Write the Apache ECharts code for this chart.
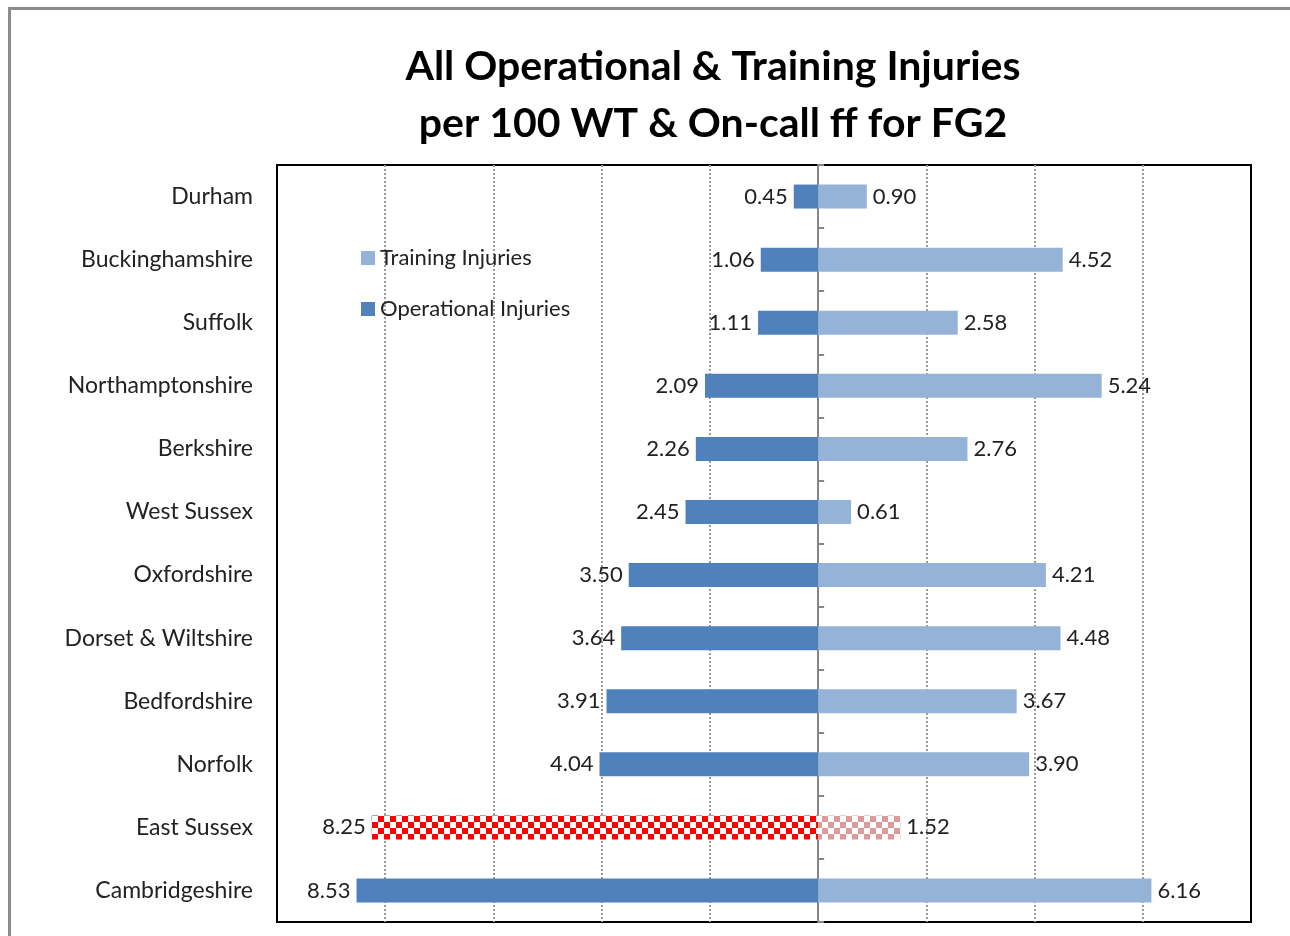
<!DOCTYPE html>
<html>
<head>
<meta charset="utf-8">
<script src="https://cdn.jsdelivr.net/npm/echarts@6/dist/echarts.min.js"></script>
<style>
  html, body { margin: 0; padding: 0; background: #fff; }
  #frame { position: absolute; left: 8px; top: 7px; width: 1290px; height: 940px;
           border-left: 3px solid #8c8c8c; border-top: 3px solid #8c8c8c; pointer-events: none; }
  #injurychart { position: absolute; left: 0; top: 0; width: 1290px; height: 936px; }
</style>
</head>
<body>
<div id="injurychart"></div>
<div id="frame"></div>
<script>
  // brigades, top to bottom as in the picture
  var brigades = ['Durham', 'Buckinghamshire', 'Suffolk', 'Northamptonshire', 'Berkshire',
    'West Sussex', 'Oxfordshire', 'Dorset & Wiltshire', 'Bedfordshire', 'Norfolk',
    'East Sussex', 'Cambridgeshire'];
  var operational = [0.45, 1.06, 1.11, 2.09, 2.26, 2.45, 3.50, 3.64, 3.91, 4.04, 8.25, 8.53];
  var training = [0.90, 4.52, 2.58, 5.24, 2.76, 0.61, 4.21, 4.48, 3.67, 3.90, 1.52, 6.16];
  var highlighted = 'East Sussex';

  var font = 'Lato';

  // checkerboard fill for the highlighted brigade
  function checker(col) {
    return {
      symbol: 'rect',
      symbolSize: 1,
      color: col,
      backgroundColor: '#ffffff',
      dashArrayX: [[6, 6], [0, 6, 6, 0]],
      dashArrayY: [6, 0],
      rotation: 0
    };
  }

  var opData = operational.map(function (v, i) {
    var d = { value: -v };
    if (brigades[i] === highlighted) d.itemStyle = { color: '#ffffff', decal: checker('#ff0000') };
    return d;
  });
  var trData = training.map(function (v, i) {
    var d = { value: v };
    if (brigades[i] === highlighted) d.itemStyle = { color: '#ffffff', decal: checker('#dc9a9a') };
    return d;
  });

  var chart = echarts.init(document.getElementById('injurychart'));

  var option = {
    animation: false,
    title: {
      text: 'All Operational & Training Injuries\nper 100 WT & On-call ff for FG2',
      left: 708,
      top: 33,
      textAlign: 'center',
      textStyle: { fontFamily: font, fontWeight: 'bold', fontSize: 41, lineHeight: 57, color: '#000' }
    },
    legend: {
      data: ['Training Injuries', 'Operational Injuries'],
      orient: 'vertical',
      left: 356,
      top: 242,
      icon: 'rect',
      itemWidth: 14,
      itemHeight: 14,
      itemGap: 29,
      textStyle: { fontFamily: font, fontSize: 22, color: '#222' }
    },
    grid: {
      left: 277,
      right: 39,
      top: 165,
      bottom: 14,
      show: true,
      borderColor: '#000',
      borderWidth: 2,
      backgroundColor: 'transparent'
    },
    xAxis: {
      type: 'value',
      min: -10,
      max: 8,
      interval: 2,
      axisLabel: { show: false },
      axisLine: { show: false },
      axisTick: { show: false },
      splitLine: {
        show: true,
        showMinLine: false,
        showMaxLine: false,
        lineStyle: { type: 'dotted', color: '#9a9a9a', width: 2 }
      }
    },
    yAxis: [
      {
        type: 'category',
        data: brigades,
        inverse: true,
        position: 'left',
        axisLine: { show: false, onZero: false },
        axisTick: { show: false },
        axisLabel: { fontFamily: font, fontSize: 23, color: '#222', margin: 24 }
      },
      {
        type: 'category',
        data: brigades,
        inverse: true,
        position: 'right',
        axisLine: { show: true, onZero: true, onZeroAxisIndex: 0, lineStyle: { color: '#868686', width: 2 } },
        axisTick: { show: true, length: 6, lineStyle: { color: '#868686', width: 2 } },
        axisLabel: { show: false }
      }
    ],
    series: [
      {
        name: 'Operational Injuries',
        type: 'bar',
        data: opData,
        barWidth: 24,
        barGap: '-100%',
        itemStyle: { color: '#4f81bd' },
        label: {
          show: true,
          position: 'left',
          distance: 6,
          fontFamily: font,
          fontSize: 22,
          color: '#222',
          formatter: function (p) { return Math.abs(p.value).toFixed(2); }
        }
      },
      {
        name: 'Training Injuries',
        type: 'bar',
        data: trData,
        barWidth: 24,
        barGap: '-100%',
        itemStyle: { color: '#95b3d7' },
        label: {
          show: true,
          position: 'right',
          distance: 6,
          fontFamily: font,
          fontSize: 22,
          color: '#222',
          formatter: function (p) { return p.value.toFixed(2); }
        }
      }
    ]
  };

  chart.setOption(option);
</script>
</body>
</html>
